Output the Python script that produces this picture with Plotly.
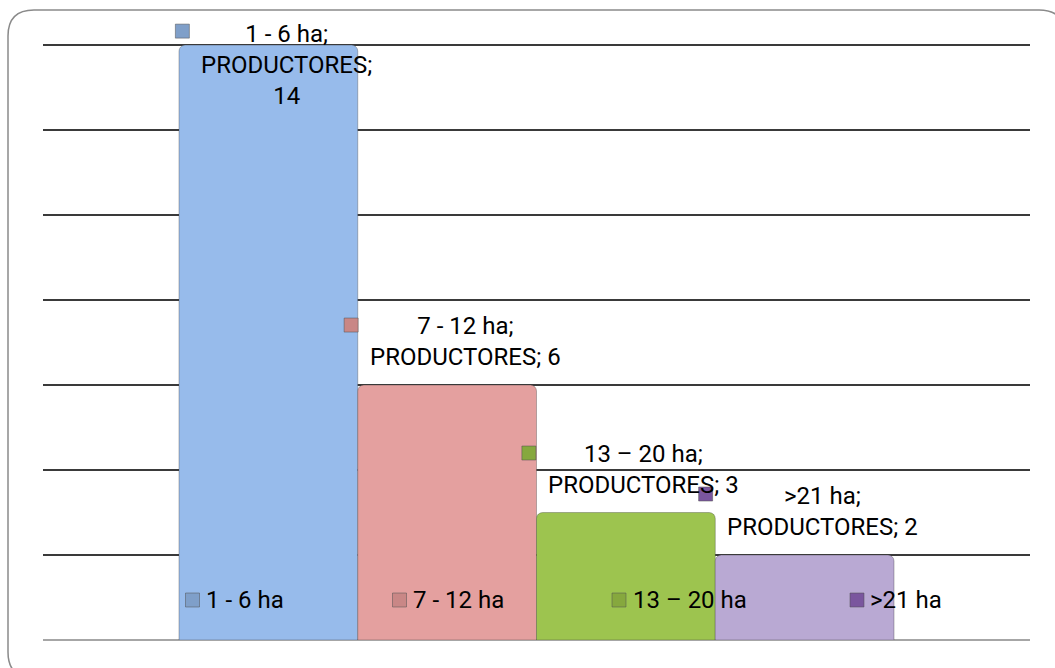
import plotly.graph_objects as go

# Data: producers by farm size range
category = "PRODUCTORES"
series = ["1 - 6 ha", "7 - 12 ha", "13 \u2013 20 ha", ">21 ha"]
values = [14, 6, 3, 2]
colors = ["#97BBEB", "#E4A09F", "#9DC44F", "#B9A9D3"]
key_colors = ["#7F9FC9", "#C98786", "#86A83E", "#7A569E"]

FONT = "Roboto, Liberation Sans, Arial, sans-serif"
FS = 24

W, H = 1055, 668
Y_MAX = 14.05
UNIT_PX = 595 / 14                     # pixels per producer on the value axis
ML, MR, MB = 43, 25, 28
MT = round(H - MB - Y_MAX * UNIT_PX)
PW, PH = W - ML - MR, H - MT - MB
BARGAP = 1 - 715 / PW
X_RANGE = [-0.5, 0.5]                  # single category spans the whole axis

fig = go.Figure()
for name, v, c in zip(series, values, colors):
    fig.add_trace(go.Bar(
        x=[category], y=[v], name=name,
        marker=dict(color=c, line=dict(color="rgba(60,60,60,0.35)", width=1), cornerradius=6),
        showlegend=False,
        hovertemplate="%{fullData.name}; %{x}; %{y}<extra></extra>",
    ))

# centre of each bar inside the single category group
n = len(series)
group_w = 1 - BARGAP
bar_w = group_w / n
centers = [-group_w / 2 + bar_w * (i + 0.5) for i in range(n)]

def data_to_paper_x(x):
    return (x - X_RANGE[0]) / (X_RANGE[1] - X_RANGE[0])

def data_to_paper_y(y):
    return y / Y_MAX

annotations = []
shapes = []

# data labels (series; category; value) with their colour keys
label_texts = [
    f"{series[0]};<br>{category};<br>{values[0]}",
] + [f"{s};<br>{category}; {v}" for s, v in zip(series[1:], values[1:])]
label_dy = [-20, 44, 43.5, 44]        # px from bar top to label centre
label_dx = 18                          # px from bar centre to label centre
key_dx = [-86, -96, -97, -99]          # px from bar centre to key centre
key_dy = [14, 60, 59.5, 61]            # px from bar top to key centre
for i in range(n):
    annotations.append(dict(
        x=centers[i], y=values[i], xref="x", yref="y",
        text=label_texts[i], showarrow=False, align="center",
        xanchor="center", yanchor="middle",
        xshift=label_dx, yshift=label_dy[i],
        font=dict(family=FONT, size=FS, color="#000000"),
    ))
    shapes.append(dict(
        type="rect", xref="paper", yref="paper",
        xsizemode="pixel", ysizemode="pixel",
        xanchor=data_to_paper_x(centers[i]), yanchor=data_to_paper_y(values[i]),
        x0=key_dx[i] - 7, x1=key_dx[i] + 7,
        y0=key_dy[i] - 7, y1=key_dy[i] + 7,
        fillcolor=key_colors[i], line=dict(color="rgba(80,80,80,0.5)", width=1),
        layer="above",
    ))

# legend drawn along the bottom of the plot area
def px_x(px):
    return (px - ML) / PW

def px_y(py):
    return (H - MB - py) / PH

legend_key_x = [192.5, 399.5, 619, 857]
legend_text_x = [204, 411, 631, 868]
legend_y = 600
for i in range(n):
    shapes.append(dict(
        type="rect", xref="paper", yref="paper",
        x0=px_x(legend_key_x[i] - 7), x1=px_x(legend_key_x[i] + 7),
        y0=px_y(legend_y + 7), y1=px_y(legend_y - 7),
        fillcolor=key_colors[i], line=dict(color="rgba(80,80,80,0.5)", width=1),
        layer="above",
    ))
    annotations.append(dict(
        x=px_x(legend_text_x[i]), y=px_y(legend_y), xref="paper", yref="paper",
        text=series[i], showarrow=False, xanchor="left", yanchor="middle",
        font=dict(family=FONT, size=FS, color="#000000"),
    ))

# rounded chart frame
x0, x1, y0, y1, r = 8, 1065, 10, 678, 26
def P(px, py):
    return f"{px_x(px):.5f},{px_y(py):.5f}"
frame = (
    f"M {P(x0 + r, y0)} L {P(x1 - r, y0)} Q {P(x1, y0)} {P(x1, y0 + r)} "
    f"L {P(x1, y1 - r)} Q {P(x1, y1)} {P(x1 - r, y1)} "
    f"L {P(x0 + r, y1)} Q {P(x0, y1)} {P(x0, y1 - r)} "
    f"L {P(x0, y0 + r)} Q {P(x0, y0)} {P(x0 + r, y0)} Z"
)
shapes.append(dict(type="path", xref="paper", yref="paper", path=frame,
                   line=dict(color="#8A8A8A", width=1.5), layer="below"))

fig.update_layout(
    width=W, height=H,
    margin=dict(l=ML, r=MR, t=MT, b=MB),
    paper_bgcolor="white", plot_bgcolor="white",
    barmode="group", bargap=BARGAP, bargroupgap=0,
    showlegend=False,
    xaxis=dict(range=X_RANGE, showticklabels=False, showgrid=False, zeroline=False,
               showline=False, ticks=""),
    yaxis=dict(range=[0, Y_MAX], tickvals=[2, 4, 6, 8, 10, 12, 14],
               showticklabels=False, ticks="",
               showgrid=True, gridcolor="#3A3A3A", gridwidth=2,
               zeroline=True, zerolinecolor="#A6A6A6", zerolinewidth=2,
               showline=False),
    annotations=annotations,
    shapes=shapes,
    font=dict(family=FONT, size=FS),
)

fig.write_html("out.html")
